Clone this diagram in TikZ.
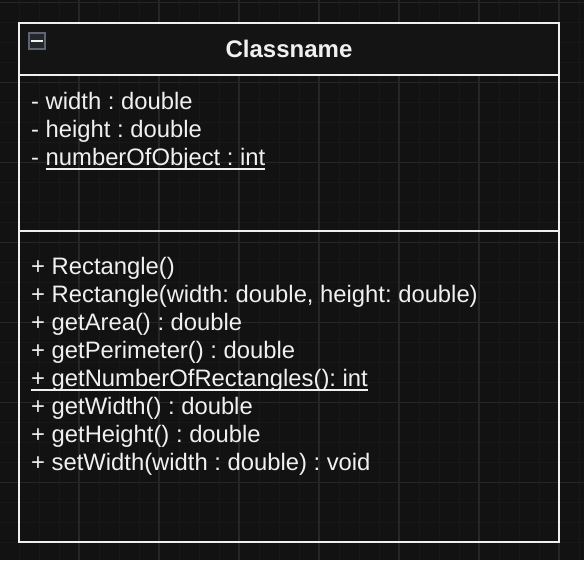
\documentclass[tikz,border=0pt]{standalone}
\usepackage{fontspec}
\setmainfont{Liberation Sans}
\usepackage{xcolor}
\usetikzlibrary{positioning}
\frenchspacing
\definecolor{canvas}{HTML}{121212}
\definecolor{gridminor}{HTML}{181818}
\definecolor{gridmajor}{HTML}{262626}
\definecolor{headfill}{HTML}{141414}
\definecolor{ink}{HTML}{F0F0F0}
\definecolor{btnedge}{HTML}{5F6570}
\definecolor{btnfill}{HTML}{23272D}
\newsavebox{\statbox}
\newcommand{\staticline}[1]{\sbox{\statbox}{#1}\rlap{\rule[-4.5pt]{\wd\statbox}{1.5pt}}\usebox{\statbox}}

\begin{document}
\begin{tikzpicture}[x=1pt,y=-1pt]
\tikzset{frame/.style={draw=ink,line width=2pt},
  headbox/.style={frame,fill=headfill,minimum width=540pt,minimum height=52pt,inner sep=0pt,
    text=ink,font=\fontsize{24}{28}\selectfont\bfseries},
  member/.style={anchor=base west,inner sep=0pt,text=ink,font=\fontsize{23.8}{28}\selectfont},
  togglebox/.style={draw=btnedge,line width=2pt,fill=btnfill,minimum size=16pt,inner sep=0pt}}
\fill[canvas] (0,0) rectangle (584,560);
\useasboundingbox (0,0) rectangle (584,560);
\foreach \x in {19,39,...,579} \draw[gridminor,line width=1pt] (\x,0) -- (\x,560);
\foreach \y in {2.7,22.7,...,562} \draw[gridminor,line width=1pt] (0,\y) -- (584,\y);
\foreach \x in {79,159,...,559} \draw[gridmajor,line width=1.5pt] (\x,0) -- (\x,560);
\foreach \y in {2.7,82.7,...,562} \draw[gridmajor,line width=1.5pt] (0,\y) -- (584,\y);
\coordinate (frameNW) at (19,23);
\coordinate (frameSE) at (559,542);
\coordinate (sepW) at (19,231);
\coordinate (sepE) at (559,231);
\draw[frame] (frameNW) rectangle (frameSE);
\node[headbox] (head) at (289,49) {Classname};
\node[togglebox] (toggle) at (37,41) {};
\draw[ink,line width=2pt] ([xshift=-6pt]toggle.center) -- ([xshift=6pt]toggle.center);
\draw[frame] (sepW) -- (sepE);
\node[member] (attr1) at (31,109) {- width : double};
\node[member] (attr2) at (31,137) {- height : double};
\node[member] (attr3) at (31,165) {- \staticline{numberOfObject : int}};
\node[member] (op1) at (31,274) {+ Rectangle()};
\node[member] (op2) at (31,302) {+ Rectangle(width: double, height: double)};
\node[member] (op3) at (31,330) {+ getArea() : double};
\node[member] (op4) at (31,358) {+ getPerimeter() : double};
\node[member] (op5) at (31,386) {\staticline{+ getNumberOfRectangles(): int}};
\node[member] (op6) at (31,414) {+ getWidth() : double};
\node[member] (op7) at (31,442) {+ getHeight() : double};
\node[member] (op8) at (31,470) {+ setWidth(width : double) : void};
\end{tikzpicture}
\end{document}
